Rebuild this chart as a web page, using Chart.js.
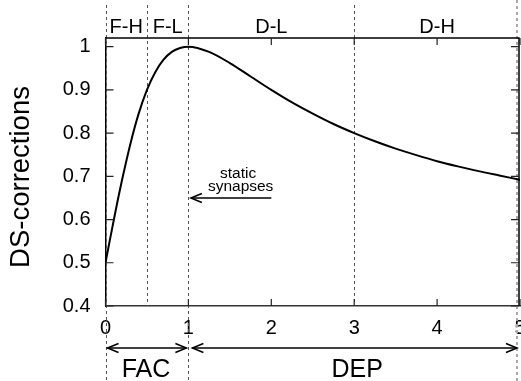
<!DOCTYPE html>
<html>
<head>
<meta charset="utf-8">
<script src="https://cdn.jsdelivr.net/npm/chart.js@4"></script>
<style>
  html, body { margin: 0; padding: 0; background: #fff; }
  #wrap { width: 521px; height: 381px; }
</style>
</head>
<body>
<div id="wrap"><canvas id="ds-chart" width="521" height="381"></canvas></div>
<script>
// curve
const xValues = [0, 0.05, 0.1, 0.15, 0.2, 0.3, 0.4, 0.5, 0.6, 0.7, 0.8, 0.9, 1.0,
  1.25, 1.5, 1.75, 2.0, 2.25, 2.5, 2.75, 3.0, 3.25, 3.5, 3.75, 4.0, 4.25, 4.5, 4.75, 5.0];
const dsValues = [0.5, 0.55, 0.599, 0.647, 0.692, 0.775, 0.845, 0.9, 0.941, 0.97, 0.988, 0.997, 1.0,
  0.988, 0.962, 0.931, 0.9, 0.871, 0.845, 0.821, 0.8, 0.781, 0.764, 0.749, 0.735, 0.723, 0.712, 0.702, 0.692];

const xTicks = [0, 1, 2, 3, 4, 5];
const yTicks = [0.4, 0.5, 0.6, 0.7, 0.8, 0.9, 1.0];

// regimes along the top
const boundaries = [0, 0.5, 1, 3, 5];
const regionLabels = ['F-H', 'F-L', 'D-L', 'D-H'];
const regionCenters = [0.25, 0.75, 2, 4];

// FAC / DEP ranges under the axis
const rangeLabels = ['FAC', 'DEP'];
const rangeFrom = [0, 1];
const rangeTo = [1, 5];

const FONT = '"Liberation Sans", Arial, sans-serif';

function arrowHead(ctx, x, y, dir) {
  ctx.beginPath();
  ctx.moveTo(x - dir * 11, y - 4.5);
  ctx.lineTo(x, y);
  ctx.lineTo(x - dir * 11, y + 4.5);
  ctx.stroke();
}

const extras = {
  id: 'extras',
  beforeDatasetsDraw(chart) {
    const { ctx, chartArea: a, scales: { x } } = chart;
    ctx.save();
    // dashed regime lines
    ctx.strokeStyle = '#555';
    ctx.lineWidth = 1;
    ctx.setLineDash([3, 3]);
    boundaries.forEach(b => {
      const px = Math.round(x.getPixelForValue(b)) + 0.5;
      if (b === 5) {
        ctx.save();
        ctx.strokeStyle = '#aaa';
        ctx.lineWidth = 2;
        ctx.beginPath();
        ctx.moveTo(px - 3.5, 0);
        ctx.lineTo(px - 3.5, 381);
        ctx.stroke();
        ctx.restore();
        return;
      }
      const y1 = (b === 0 || b === 1) ? 381 : a.bottom;
      ctx.beginPath();
      ctx.moveTo(px, 5);
      ctx.lineTo(px, y1);
      ctx.stroke();
    });
    ctx.restore();
  },
  afterDraw(chart) {
    const { ctx, chartArea: a, scales: { x, y } } = chart;
    ctx.save();
    ctx.strokeStyle = '#000';
    ctx.lineWidth = 1.5;
    // box top and right
    ctx.beginPath();
    ctx.moveTo(a.left, a.top);
    ctx.lineTo(a.right - 1, a.top);
    ctx.lineTo(a.right - 1, a.bottom);
    ctx.stroke();

    // inner ticks
    ctx.lineWidth = 1.2;
    ctx.strokeStyle = '#222';
    yTicks.forEach(v => {
      const py = y.getPixelForValue(v);
      ctx.beginPath();
      ctx.moveTo(a.left, py); ctx.lineTo(a.left + 8, py);
      ctx.moveTo(a.right - 1, py); ctx.lineTo(a.right - 9, py);
      ctx.stroke();
    });
    xTicks.forEach(v => {
      const px = x.getPixelForValue(v);
      ctx.beginPath();
      ctx.moveTo(px, a.bottom); ctx.lineTo(px, a.bottom - 7);
      ctx.moveTo(px, a.top); ctx.lineTo(px, a.top + 7);
      ctx.stroke();
    });

    ctx.fillStyle = '#000';
    ctx.textAlign = 'center';
    ctx.textBaseline = 'middle';

    // regime labels
    ctx.font = '20px ' + FONT;
    regionLabels.forEach((t, i) => {
      ctx.fillText(t, x.getPixelForValue(regionCenters[i]), a.top - 11);
    });

    // y title
    ctx.save();
    ctx.translate(21, 177);
    ctx.rotate(-Math.PI / 2);
    ctx.font = '27.5px ' + FONT;
    ctx.fillText('DS-corrections', 0, 0);
    ctx.restore();

    // FAC / DEP arrows
    ctx.lineWidth = 1.5;
    ctx.strokeStyle = '#000';
    const ay = 348;
    rangeLabels.forEach((t, i) => {
      const x0 = x.getPixelForValue(rangeFrom[i]) + (i === 0 ? 2 : 4);
      const x1 = x.getPixelForValue(rangeTo[i]) - (i === 0 ? 2 : 3);
      ctx.beginPath();
      ctx.moveTo(x0, ay); ctx.lineTo(x1, ay);
      ctx.stroke();
      arrowHead(ctx, x0, ay, -1);
      arrowHead(ctx, x1, ay, 1);
      ctx.font = '25px ' + FONT;
      ctx.fillText(t, x.getPixelForValue((rangeFrom[i] + rangeTo[i]) / 2) + (i === 0 ? -1 : 3), 370);
    });

    // static synapses note
    ctx.font = '15.5px ' + FONT;
    ctx.fillText('static', x.getPixelForValue(1.6), y.getPixelForValue(0.705));
    ctx.fillText('synapses', x.getPixelForValue(1.63), y.getPixelForValue(0.675));
    const sy = y.getPixelForValue(0.65);
    const sx0 = x.getPixelForValue(2.0);
    const sx1 = x.getPixelForValue(1.03);
    ctx.beginPath();
    ctx.moveTo(sx0, sy); ctx.lineTo(sx1, sy);
    ctx.stroke();
    arrowHead(ctx, sx1, sy, -1);
    ctx.restore();
  }
};

new Chart(document.getElementById('ds-chart'), {
  type: 'line',
  data: {
    labels: xValues,
    datasets: [{
      data: xValues.map((v, i) => ({ x: v, y: dsValues[i] })),
      borderColor: '#000',
      borderWidth: 2,
      pointRadius: 0,
      cubicInterpolationMode: 'monotone',
      fill: false
    }]
  },
  options: {
    responsive: false,
    animation: false,
    layout: { padding: { top: 38, right: 1, left: 0, bottom: 0 } },
    plugins: { legend: { display: false }, tooltip: { enabled: false } },
    scales: {
      x: {
        type: 'linear',
        min: 0,
        max: 5,
        afterBuildTicks: s => { s.ticks = xTicks.map(v => ({ value: v })); },
        afterFit: s => { s.height = 75; s.paddingLeft = 0; s.paddingRight = 0; },
        grid: { display: false, drawTicks: false },
        border: { display: true, color: '#333', width: 1.5 },
        ticks: { color: '#000', padding: 10, maxRotation: 0, font: { size: 20, family: FONT } }
      },
      y: {
        min: 0.4,
        max: 1.02,
        afterBuildTicks: s => { s.ticks = yTicks.map(v => ({ value: v })); },
        afterFit: s => { s.width = 105.5; s.paddingTop = 0; s.paddingBottom = 0; },
        grid: { display: false, drawTicks: false },
        border: { display: true, color: '#000', width: 1.5 },
        ticks: { color: '#000', padding: 15, font: { size: 20, family: FONT },
          callback: v => String(Math.round(v * 10) / 10) }
      }
    }
  },
  plugins: [extras]
});
</script>
</body>
</html>
